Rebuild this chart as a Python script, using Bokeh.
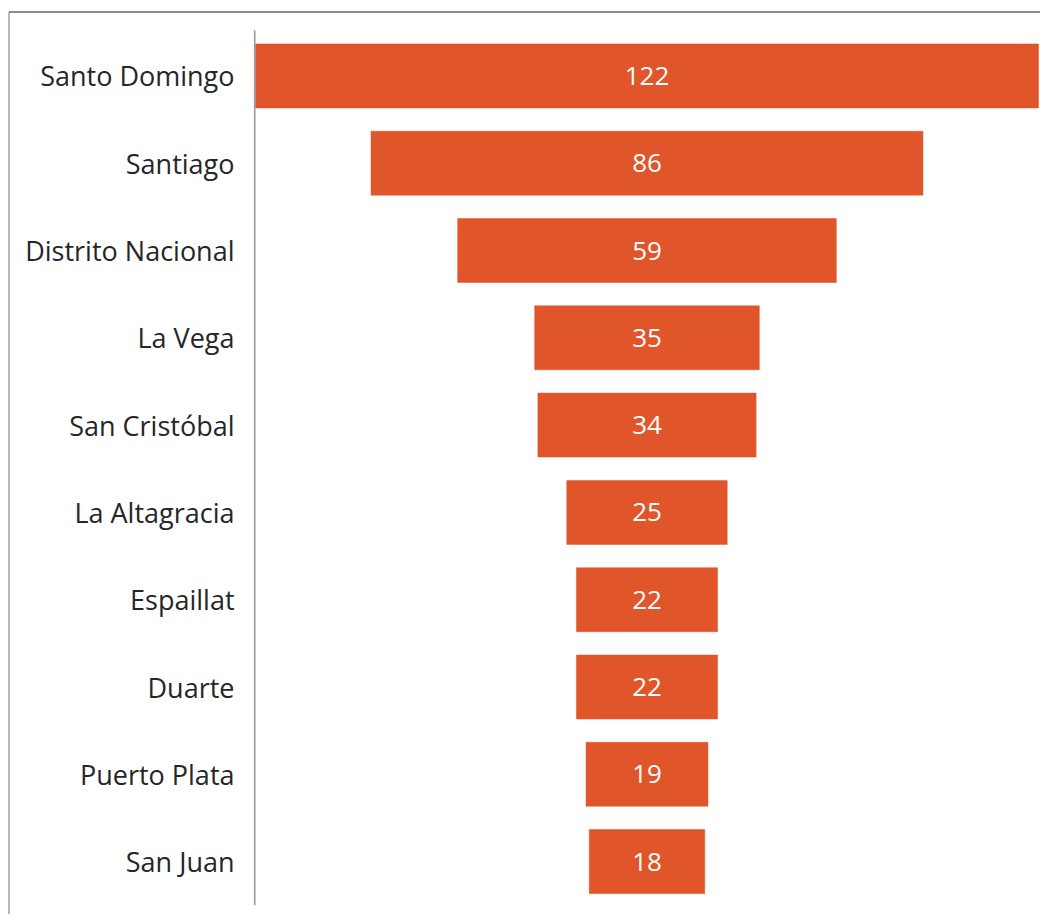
from bokeh.plotting import figure
from bokeh.models import Range1d, ColumnDataSource
from bokeh.core.properties import value
from bokeh.embed import file_html
from bokeh.resources import INLINE

categories = ["Santo Domingo", "Santiago", "Distrito Nacional", "La Vega", "San Cristóbal",
              "La Altagracia", "Espaillat", "Duarte", "Puerto Plata", "San Juan"]
values = [122, 86, 59, 35, 34, 25, 22, 22, 19, 18]

BAR_COLOR = "#E0552A"
FONT = "Open Sans"

px_per_unit = 6.418
center_px = 646.5
band_px = 87.3
first_center_px = 75.4
W, H = 1040, 914

x_start = -center_px / px_per_unit
x_end = (W - center_px) / px_per_unit
y_top = -first_center_px / band_px
y_bottom = (H - first_center_px) / band_px

p = figure(width=W, height=H, output_backend="svg", toolbar_location=None,
           x_range=Range1d(x_start, x_end), y_range=Range1d(y_bottom, y_top),
           min_border=0, min_border_left=0, min_border_right=0,
           min_border_top=0, min_border_bottom=0)
p.axis.visible = False
p.grid.visible = False
p.outline_line_color = None
p.background_fill_color = "white"
p.border_fill_color = "white"

ys = list(range(len(categories)))
src = ColumnDataSource(dict(
    y=ys, v=values, cat=categories,
    left=[-v / 2 for v in values], right=[v / 2 for v in values],
    label=[str(v) for v in values],
    zero=[0] * len(values),
))

# outer border (top and left edges of the chart box)
border_y = y_top + 11.5 / band_px
border_x = x_start + 8.5 / px_per_unit
p.segment(x0=[border_x], y0=[border_y], x1=[x_end], y1=[border_y],
          line_color="#8a8a8a", line_width=2)
p.segment(x0=[border_x], y0=[border_y], x1=[border_x], y1=[y_bottom],
          line_color="#8a8a8a", line_width=1.2)

# bars
p.hbar(y="y", left="left", right="right", height=0.733, source=src,
       fill_color=BAR_COLOR, line_color=BAR_COLOR, line_width=0.5)

# vertical axis line at the left of the widest bar
axis_x = -max(values) / 2
p.segment(x0=[axis_x - 0.8 / px_per_unit], y0=[-0.5 - 2 / band_px],
          x1=[axis_x - 0.8 / px_per_unit], y1=[len(values) - 0.5],
          line_color="#9a9a9a", line_width=1.6)

# category labels
p.text(x=axis_x - 21 / px_per_unit, y="y", text="cat", source=src,
       text_align="right", text_baseline="middle",
       text_font=value(FONT), text_font_size="27px", text_color="#262626")

# value labels
p.text(x="zero", y="y", text="label", source=src,
       text_align="center", text_baseline="middle",
       text_font=value(FONT), text_font_size="26px", text_color="white")

open("out.html", "w").write(file_html(p, INLINE))
